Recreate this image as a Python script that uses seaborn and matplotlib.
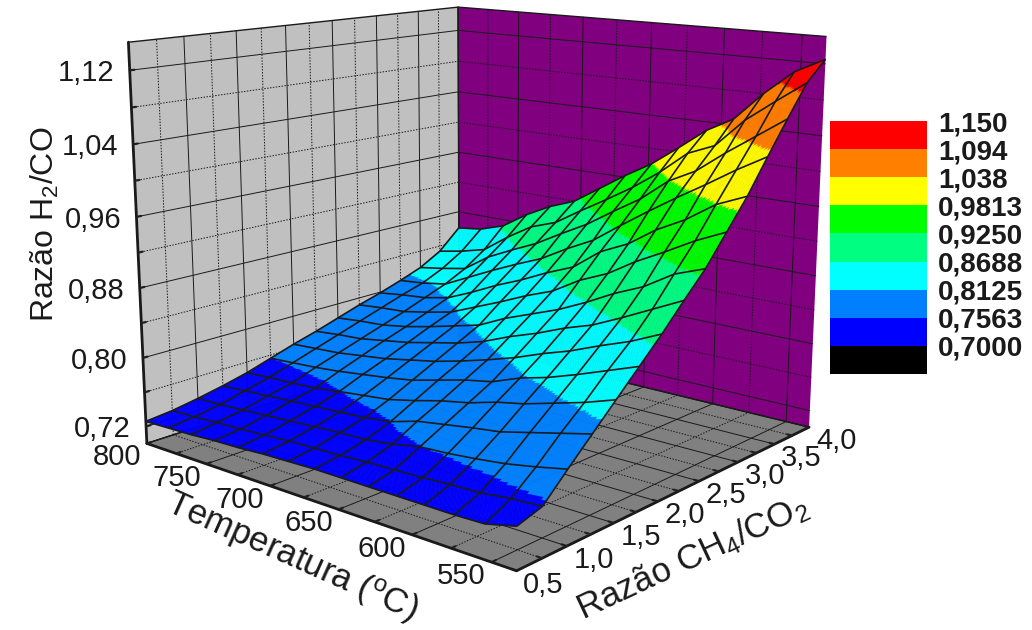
import matplotlib
matplotlib.use("Agg")
import matplotlib.pyplot as plt
from matplotlib.colors import BoundaryNorm, ListedColormap
from mpl_toolkits.mplot3d import proj3d
import numpy as np
import seaborn as sns

# razao CH4/CO2 (colunas) e temperatura (linhas) da malha medida
razao = [0.5, 0.75, 1.0, 1.25, 1.5, 1.75, 2.0, 2.25, 2.5, 2.75, 3.0, 3.25, 3.5, 3.75, 4.0]
temperatura = [800, 781, 762, 743, 724, 705, 686, 667, 648, 629, 610, 592, 573, 554, 535]
h2_co = [
    [.726, .729, .734, .740, .747, .756, .765, .773, .782, .791, .799, .808, .818, .833, .858],
    [.727, .730, .735, .742, .749, .758, .767, .776, .785, .794, .803, .811, .823, .839, .862],
    [.728, .732, .737, .744, .750, .760, .769, .778, .787, .796, .806, .816, .829, .847, .872],
    [.730, .733, .739, .746, .752, .763, .773, .783, .792, .802, .8125, .831, .850, .869, .892],
    [.731, .735, .741, .748, .756, .767, .777, .788, .799, .809, .826, .846, .865, .888, .908],
    [.733, .737, .743, .750, .7595, .771, .783, .795, .807, .822, .841, .860, .879, .899, .920],
    [.734, .738, .745, .752, .763, .776, .789, .802, .815, .835, .854, .873, .897, .919, .941],
    [.735, .739, .746, .756, .770, .784, .797, .811, .830, .849, .869, .891, .914, .938, .962],
    [.735, .741, .750, .765, .778, .792, .806, .824, .842, .861, .882, .907, .935, .958, .981],
    [.735, .742, .756, .770, .784, .798, .816, .835, .854, .880, .906, .930, .955, .981, 1.005],
    [.735, .743, .758, .775, .793, .810, .828, .848, .869, .894, .921, .952, .981, 1.008, 1.030],
    [.735, .745, .761, .779, .799, .818, .838, .858, .885, .913, .942, .972, .997, 1.021, 1.047],
    [.735, .746, .765, .787, .808, .829, .851, .873, .899, .930, .959, .992, 1.022, 1.054, 1.080],
    [.736, .750, .771, .795, .817, .841, .863, .889, .919, .948, .981, 1.013, 1.045, 1.079, 1.108],
    [.744, .752, .778, .803, .828, .853, .878, .905, .931, .963, .995, 1.032, 1.068, 1.103, 1.125],
]

# legenda
niveis = [0.6438, 0.7, 0.7563, 0.8125, 0.8688, 0.925, 0.9813, 1.038, 1.094, 1.15]
cores = ["#000000", "#0000ff", "#0080ff", "#00ffff", "#00ff80", "#00ff00", "#ffff00", "#ff8000", "#ff0000"]
rotulos_legenda = ["1,150", "1,094", "1,038", "0,9813", "0,9250", "0,8688", "0,8125", "0,7563", "0,7000"]

# eixos
ticks_razao = [0.5, 1.0, 1.5, 2.0, 2.5, 3.0, 3.5, 4.0]
rotulos_razao = ["0,5", "1,0", "1,5", "2,0", "2,5", "3,0", "3,5", "4,0"]
minor_razao = [0.75, 1.25, 1.75, 2.25, 2.75, 3.25, 3.75]
ticks_temp = [800, 750, 700, 650, 600, 550]
minor_temp = [775, 725, 675, 625, 575]
ticks_z = [0.72, 0.80, 0.88, 0.96, 1.04, 1.12]
rotulos_z = ["0,72", "0,80", "0,88", "0,96", "1,04", "1,12"]
minor_z = [0.76, 0.84, 0.92, 1.00, 1.08]

X_MIN, X_MAX = 0.5, 4.0
Y_MIN, Y_MAX = 535, 800
Z_MIN, Z_MAX = 0.70, 1.15

sns.set_theme(style="white")
plt.rcParams["font.family"] = ["Liberation Sans", "DejaVu Sans"]
plt.rcParams["mathtext.fontset"] = "custom"
plt.rcParams["mathtext.rm"] = "Liberation Sans"
plt.rcParams["mathtext.default"] = "regular"

W, H = 1032, 630


def subdivide(values, n=14):
    # so para as faixas de cor ficarem lisas dentro de cada celula da malha
    arr = np.asarray(values, dtype=float)
    idx = np.linspace(0, arr.shape[0] - 1, (arr.shape[0] - 1) * n + 1)
    i0 = np.minimum(idx.astype(int), arr.shape[0] - 2)
    w = idx - i0
    rows = arr[i0] * (1 - w)[:, None] + arr[i0 + 1] * w[:, None]
    idy = np.linspace(0, arr.shape[1] - 1, (arr.shape[1] - 1) * n + 1)
    j0 = np.minimum(idy.astype(int), arr.shape[1] - 2)
    v = idy - j0
    return rows[:, j0] * (1 - v) + rows[:, j0 + 1] * v


def draw_wall_grid(ax, ticks, line_style):
    for x in ticks["x"]:
        ax.plot([x, x], [Y_MIN, Y_MAX], [Z_MIN, Z_MIN], color="k", lw=0.7, ls=line_style, zorder=1)
        ax.plot([x, x], [Y_MAX, Y_MAX], [Z_MIN, Z_MAX], color="k", lw=0.7, ls=line_style, zorder=1)
    for y in ticks["y"]:
        ax.plot([X_MIN, X_MAX], [y, y], [Z_MIN, Z_MIN], color="k", lw=0.7, ls=line_style, zorder=1)
        ax.plot([X_MAX, X_MAX], [y, y], [Z_MIN, Z_MAX], color="k", lw=0.7, ls=line_style, zorder=1)
    for z in ticks["z"]:
        ax.plot([X_MIN, X_MAX], [Y_MAX, Y_MAX], [z, z], color="k", lw=0.7, ls=line_style, zorder=1)
        ax.plot([X_MAX, X_MAX], [Y_MIN, Y_MAX], [z, z], color="k", lw=0.7, ls=line_style, zorder=1)


def tick_label(ax, text, x, y, z, dx, dy, ha="center"):
    # rotulo preso ao tick, deslocado em pixels (mplot3d nao deixa escolher a direcao)
    px, py, _ = proj3d.proj_transform(x, y, z, ax.get_proj())
    ax.annotate(text, xy=(px, py), xycoords="data", xytext=(dx * 0.72, -dy * 0.72), textcoords="offset points",
                ha=ha, va="center", fontsize=21, color="k", annotation_clip=False)


fig = plt.figure(figsize=(W / 100, H / 100), dpi=100)
side = 1000
cx, cy = 469, 256
ax = fig.add_axes([(cx - side / 2) / W, 1 - (cy + side / 2) / H, side / W, side / H], projection="3d")
ax.patch.set_alpha(0)
ax.set_proj_type("persp", focal_length=0.32)
ax.view_init(elev=13, azim=-139.5)
ax.set_box_aspect((0.98, 0.99, 0.83), zoom=0.77)
ax.computed_zorder = False

ax.set_xlim(X_MIN, X_MAX, view_margin=0)
ax.set_ylim(Y_MIN, Y_MAX, view_margin=0)
ax.set_zlim(Z_MIN, Z_MAX, view_margin=0)

ax.xaxis.set_pane_color("#800080")
ax.yaxis.set_pane_color("#c0c0c0")
ax.zaxis.set_pane_color("#808080")
for axis in (ax.xaxis, ax.yaxis, ax.zaxis):
    axis.pane.set_edgecolor("k")
    axis.pane.set_linewidth(1.0)
    axis.line.set_color("k")
    axis.line.set_linewidth(2.0)
    axis._axinfo["tick"]["linewidth"] = {True: 1.6, False: 1.6}
    axis._axinfo["tick"]["color"] = "k"
    axis._axinfo["tick"]["inward_factor"] = 0.0
    axis._axinfo["tick"]["outward_factor"] = 0.15
ax.grid(False)

draw_wall_grid(ax, {"x": ticks_razao, "y": ticks_temp, "z": ticks_z}, "-")
draw_wall_grid(ax, {"x": minor_razao, "y": minor_temp, "z": minor_z}, (0, (1.5, 1.5)))

RR, TT = np.meshgrid(razao, temperatura)
fine_r = subdivide(RR)
fine_t = subdivide(TT)
fine_z = subdivide(h2_co)
norm = BoundaryNorm(niveis, len(cores))
cmap = ListedColormap(cores)
mid_z = (fine_z[:-1, :-1] + fine_z[1:, :-1] + fine_z[:-1, 1:] + fine_z[1:, 1:]) / 4
ax.plot_surface(fine_r, fine_t, fine_z, rcount=fine_z.shape[0], ccount=fine_z.shape[1],
                facecolors=cmap(norm(mid_z)), shade=False, linewidth=0.3, antialiased=True, zorder=2)
ax.plot_wireframe(RR, TT, np.asarray(h2_co), rcount=15, ccount=15, color="k", linewidth=1.2, zorder=3)

ax.set_xticks(ticks_razao, [""] * len(ticks_razao))
ax.set_yticks(ticks_temp, [""] * len(ticks_temp))
ax.set_zticks(ticks_z, [""] * len(ticks_z))
ax.set_xticks(minor_razao, minor=True)
ax.set_yticks(minor_temp, minor=True)
ax.set_zticks(minor_z, minor=True)
ax.set_xlabel("")
ax.set_ylabel("")
ax.set_zlabel("")

for r, txt in zip(ticks_razao, rotulos_razao):
    tick_label(ax, txt, r, Y_MIN, Z_MIN, 27, 14)
for t in ticks_temp:
    tick_label(ax, str(t), X_MIN, t, Z_MIN, -30, 14)
for z, txt in zip(ticks_z, rotulos_z):
    tick_label(ax, txt, X_MIN, Y_MAX, z, -15, 3, ha="right")

fig.text(45 / W, 1 - 224 / H, "Razão H$_2$/CO", rotation=90, ha="center", va="center", fontsize=23, color="k")
fig.text(292 / W, 1 - 557 / H, "Temperatura ($^{o}$C)", rotation=-24, ha="center", va="center", fontsize=25, color="k",
         rotation_mode="anchor")
fig.text(692 / W, 1 - 558 / H, "Razão CH$_4$/CO$_2$", rotation=25, ha="center", va="center", fontsize=25, color="k",
         rotation_mode="anchor")

# legenda em bloco, uma faixa por linha
leg = fig.add_axes([830 / W, 1 - 374 / H, 97 / W, 253 / H])
bandas = np.arange(len(cores))[::-1].reshape(-1, 1)
sns.heatmap(bandas, ax=leg, cmap=ListedColormap(cores), cbar=False, xticklabels=False, vmin=-0.5, vmax=len(cores) - 0.5)
leg.yaxis.tick_right()
leg.set_yticks(np.arange(len(cores)), rotulos_legenda, rotation=0, fontsize=20, fontweight="bold", color="k")
leg.tick_params(axis="y", length=0, pad=8)

fig.savefig("out.png", dpi=100)
plt.close(fig)
